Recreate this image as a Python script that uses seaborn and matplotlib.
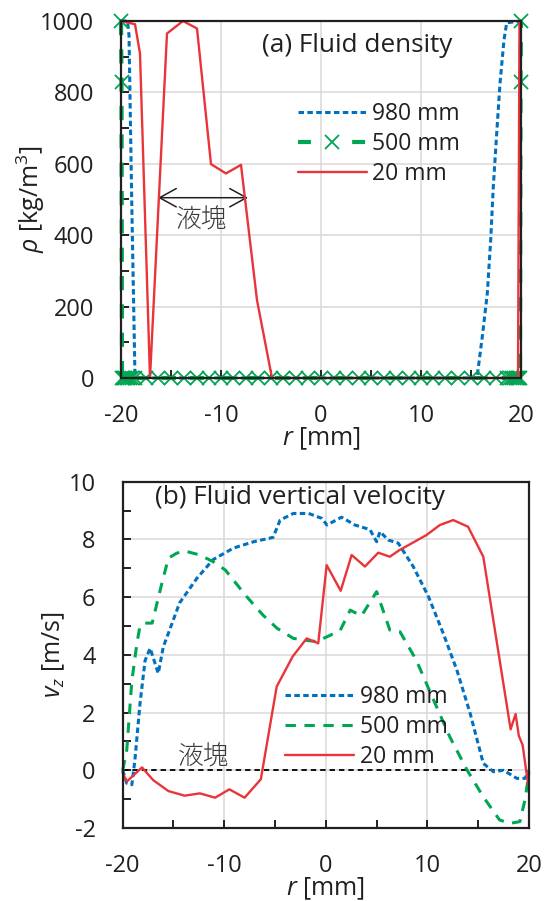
import matplotlib
matplotlib.use("Agg")
import matplotlib.pyplot as plt
import seaborn as sns
import pandas as pd
from matplotlib.ticker import MultipleLocator

# ---------------- data ----------------
# (a) fluid density
rho_980_r = [-20, -19.35, -19.2, -18.93, -18.6, 15.6, 16.17, 16.63, 16.97, 17.23, 17.57, 17.9, 18.3, 18.57, 20]
rho_980_v = [1000, 1000, 960, 500, 0, 0, 125, 237, 387, 536, 685, 825, 947, 995, 1000]

rho_500_r = [-20, -19.95, -19.9, -19.8, -19.7, -19.6, -19.45, -19.3, -19.1, -18.9, -18.6, -17.5,
             -16.3, -15.0, -13.7, -12.4, -11.2, -10.0, -8.8, -7.5, -6.3, -5.0, -3.8, -2.5, -1.3,
             0.0, 1.3, 2.5, 3.8, 5.0, 6.3, 7.5, 8.8, 10.0, 11.2, 12.4, 13.7, 15.0, 16.3, 17.5,
             18.6, 18.9, 19.1, 19.3, 19.45, 19.6, 19.7, 19.8, 19.9, 19.95, 20]
rho_500_v = [1000, 830] + [0] * 47 + [830, 1000]

rho_20_r = [-20, -18.6, -18.1, -17.1, -15.4, -13.8, -12.4, -11.0, -9.5, -8.0, -6.4, -4.9, 19.7, 19.85, 20]
rho_20_v = [1000, 991, 909, 0, 965, 1000, 979, 599, 573, 597, 218, 0, 0, 1000, 1000]

# (b) fluid vertical velocity
vz_980_r = [-20, -19.6, -19.1, -18.8, -18.3, -17.8, -17.3, -16.5, -16.0, -15.5, -14.4, -12.7, -11.1,
            -9.1, -7.1, -5.2, -4.5, -3.2, -1.7, -0.4, 0.1, 1.55, 2.86, 4.34, 5.0, 5.33, 6.14, 7.13,
            8.6, 10.1, 11.55, 12.9, 14.2, 15.5, 16.5, 17.5, 18.8, 19.6, 20]
vz_980_v = [0, -0.45, -0.5, 0.35, 2.3, 3.8, 4.23, 3.36, 4.28, 4.75, 5.8, 6.65, 7.3,
            7.7, 7.92, 8.07, 8.67, 8.9, 8.9, 8.73, 8.5, 8.77, 8.5, 8.34, 7.92, 8.27, 7.98, 7.87,
            7.06, 6.02, 4.75, 3.47, 1.98, 0.24, -0.05, 0.0, -0.28, -0.28, 0.0]

vz_500_r = [-20, -19.6, -19.1, -18.6, -18.3, -17.8, -17.1, -16.2, -15.5, -14.7, -13.9, -12.4, -11.1,
            -9.9, -7.8, -6.2, -4.8, -3.2, -1.9, -0.9, 1.4, 2.4, 3.5, 5.0, 6.3, 7.3, 8.9, 10.6,
            12.2, 13.9, 15.5, 17.1, 18.1, 19.1, 19.6, 20]
vz_500_v = [0, 0.7, 3.1, 4.4, 5.0, 5.1, 5.1, 6.4, 7.35, 7.52, 7.6, 7.46, 7.23,
            6.94, 6.02, 5.38, 4.92, 4.57, 4.5, 4.46, 4.84, 5.55, 5.35, 6.19, 4.86, 4.8, 3.82, 2.44,
            1.16, 0.01, -0.92, -1.72, -1.84, -1.78, -1.03, -0.1]

vz_20_r = [-20, -19.6, -18.1, -17.0, -15.5, -13.9, -12.4, -10.9, -9.5, -8.0, -6.4, -4.84, -3.27,
           -1.89, -0.75, 0.08, 1.46, 2.54, 3.85, 5.16, 6.3, 7.2, 9.9, 11.23, 12.54, 14.0, 15.5,
           18.19, 18.68, 19.0, 19.37, 19.92, 20]
vz_20_v = [-0.1, -0.39, 0.1, -0.34, -0.72, -0.88, -0.8, -0.95, -0.66, -0.95, -0.31, 2.9, 3.94,
           4.57, 4.4, 7.11, 6.22, 7.46, 7.06, 7.54, 7.4, 7.62, 8.15, 8.5, 8.67, 8.44, 7.4,
           1.42, 1.95, 1.19, 0.88, -0.51, -0.1]

zero_r = [-20, 18.3]
zero_v = [0, 0]

series_labels = ["980 mm", "500 mm", "20 mm"]
panel_titles = ["(a) Fluid density", "(b) Fluid vertical velocity"]
blob_label = "液塊"

# ---------------- style ----------------
sns.set_theme(style="white")
INK = "#231F20"
plt.rcParams["font.family"] = ["Open Sans", "Noto Sans CJK JP", "DejaVu Sans"]
plt.rcParams["mathtext.fontset"] = "custom"
plt.rcParams["mathtext.rm"] = "Open Sans"
plt.rcParams["mathtext.it"] = "Open Sans:italic"
plt.rcParams["axes.unicode_minus"] = False
plt.rcParams["text.color"] = INK
plt.rcParams["axes.labelcolor"] = INK

BLUE = "#0070C0"
GREEN = "#00A651"
RED = "#E9343A"

fig = plt.figure(figsize=(5.45, 9.01), dpi=100)
ax1 = fig.add_axes([121 / 545, 1 - 378 / 901, 400 / 545, 357 / 901])
ax2 = fig.add_axes([122.7 / 545, 1 - 828 / 901, 406.3 / 545, 346.3 / 901])


def frame(ax, xmaj, xmin, ymaj, ymin):
    ax.xaxis.set_major_locator(MultipleLocator(xmaj))
    ax.xaxis.set_minor_locator(MultipleLocator(xmin))
    ax.yaxis.set_major_locator(MultipleLocator(ymaj))
    ax.yaxis.set_minor_locator(MultipleLocator(ymin))
    ax.grid(True, which="major", color="#D9D9D9", lw=1.1)
    ax.set_axisbelow(True)
    for s in ax.spines.values():
        s.set_color(INK)
        s.set_linewidth(1.6)
        s.set_zorder(5)
    ax.tick_params(which="both", direction="in", length=6, width=1.4, color=INK,
                   labelcolor=INK, labelsize=17, top=False, right=False,
                   bottom=True, left=True)
    ax.tick_params(axis="y", which="both", pad=19.5)
    ax.tick_params(axis="x", which="both", pad=18.5)


# ---------------- (a) ----------------
d980 = pd.DataFrame({"r": rho_980_r, "v": rho_980_v})
d500 = pd.DataFrame({"r": rho_500_r, "v": rho_500_v})
d20 = pd.DataFrame({"r": rho_20_r, "v": rho_20_v})

sns.lineplot(data=d980, x="r", y="v", sort=False, estimator=None, ax=ax1, color=BLUE,
             lw=2.2, linestyle=(0, (1.8, 1.1)), label=series_labels[0], clip_on=False, zorder=3)
sns.lineplot(data=d500, x="r", y="v", sort=False, estimator=None, ax=ax1, color=GREEN,
             lw=3.0, linestyle=(0, (3.4, 3.4)), marker="x", markersize=10, markeredgewidth=1.3,
             markeredgecolor=GREEN, label=series_labels[1], clip_on=False, zorder=3.5)
sns.lineplot(data=d20, x="r", y="v", sort=False, estimator=None, ax=ax1, color=RED,
             lw=1.7, label=series_labels[2], clip_on=False, zorder=4)

frame(ax1, 10, 5, 200, 100)
ax1.set_xlim(-20, 20)
ax1.set_ylim(0, 1000)
ax1.set_xlabel("$r$ [mm]", fontsize=18)
ax1.set_ylabel(r"$\rho$ [kg/m$^3$]", fontsize=18)
ax1.xaxis.set_label_coords(0.5, -0.171)
ax1.xaxis.label.set_va("center")
ax1.yaxis.set_label_coords(-0.225, 0.5)
ax1.yaxis.label.set_va("center")

ax1.text(0.352, 0.93, panel_titles[0], transform=ax1.transAxes, ha="left", va="center",
         fontsize=18.8, color=INK)

ax1.annotate("", xy=(-16.3, 505), xytext=(-7.3, 505),
             arrowprops=dict(arrowstyle="<->,head_length=0.6,head_width=0.33", color=INK,
                             lw=1.1, mutation_scale=20, shrinkA=0, shrinkB=0))
ax1.text(-11.9, 442, blob_label, ha="center", va="center", fontsize=18.5,
         family=["Noto Sans CJK JP"], fontweight="light", color="#3A3A3A")

leg1 = ax1.legend(loc="upper left", bbox_to_anchor=(0.4425, 0.774), frameon=False,
                  fontsize=16.5, handlelength=3.0, handletextpad=0.25, labelspacing=0.26,
                  borderpad=0, borderaxespad=0, numpoints=1)
leg1.get_lines()[1].set_dashes([3.1, 9.9])
for t in leg1.get_texts():
    t.set_color(INK)

# ---------------- (b) ----------------
e980 = pd.DataFrame({"r": vz_980_r, "v": vz_980_v})
e500 = pd.DataFrame({"r": vz_500_r, "v": vz_500_v})
e20 = pd.DataFrame({"r": vz_20_r, "v": vz_20_v})
ez = pd.DataFrame({"r": zero_r, "v": zero_v})

sns.lineplot(data=ez, x="r", y="v", sort=False, estimator=None, ax=ax2, color="black",
             lw=1.3, linestyle=(0, (3.0, 2.2)), legend=False, zorder=2.5)
sns.lineplot(data=e980, x="r", y="v", sort=False, estimator=None, ax=ax2, color=BLUE,
             lw=2.2, linestyle=(0, (1.8, 1.1)), label=series_labels[0], clip_on=False, zorder=3)
sns.lineplot(data=e500, x="r", y="v", sort=False, estimator=None, ax=ax2, color=GREEN,
             lw=2.2, linestyle=(0, (3.4, 2.8)), label=series_labels[1], clip_on=False, zorder=3.5)
sns.lineplot(data=e20, x="r", y="v", sort=False, estimator=None, ax=ax2, color=RED,
             lw=1.7, label=series_labels[2], clip_on=False, zorder=4)

frame(ax2, 10, 5, 2, 1)
ax2.set_xlim(-20, 20)
ax2.set_ylim(-2, 10)
ax2.set_xlabel("$r$ [mm]", fontsize=18)
ax2.set_ylabel("$v_z$ [m/s]", fontsize=18)
ax2.xaxis.set_label_coords(0.5, -0.176)
ax2.xaxis.label.set_va("center")
ax2.yaxis.set_label_coords(-0.169, 0.5)
ax2.yaxis.label.set_va("center")

ax2.text(0.08, 0.953, panel_titles[1], transform=ax2.transAxes, ha="left", va="center",
         fontsize=18.8, color=INK)
ax2.text(-12.0, 0.46, blob_label, ha="center", va="center", fontsize=18.5,
         family=["Noto Sans CJK JP"], fontweight="light", color="#3A3A3A")

handles, labels = ax2.get_legend_handles_labels()
keep = [(h, l) for h, l in zip(handles, labels) if l in series_labels]
leg2 = ax2.legend([h for h, _ in keep], [l for _, l in keep], loc="upper left",
                  bbox_to_anchor=(0.40, 0.413), frameon=False, fontsize=16.5,
                  handlelength=3.0, handletextpad=0.25, labelspacing=0.26,
                  borderpad=0, borderaxespad=0)
for t in leg2.get_texts():
    t.set_color(INK)

fig.savefig("out.png", dpi=100)
